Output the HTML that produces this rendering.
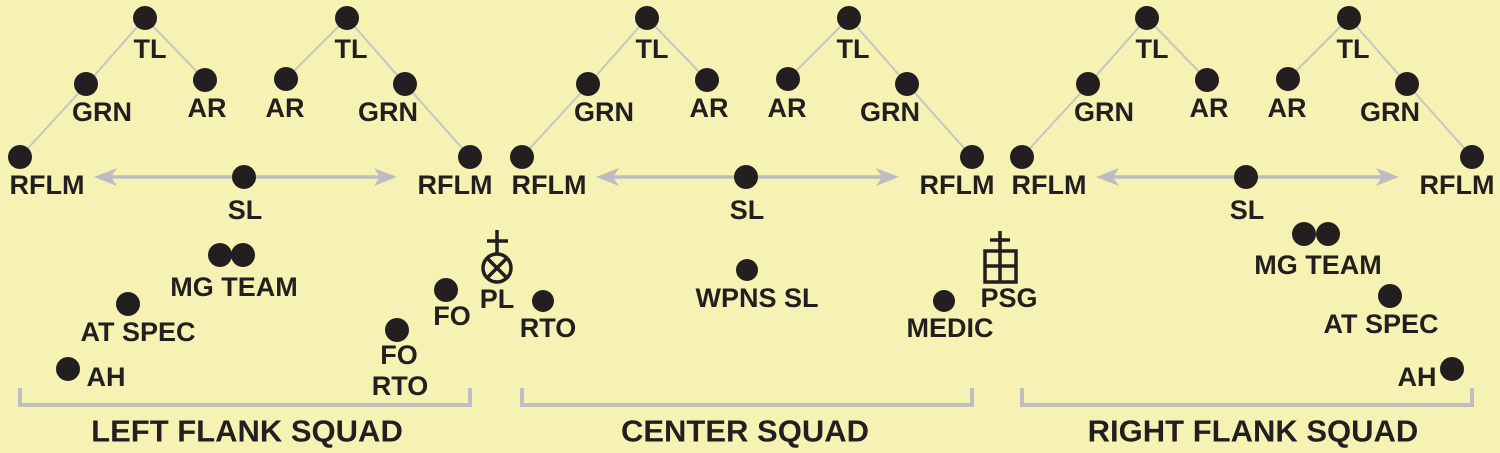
<!DOCTYPE html>
<html><head><meta charset="utf-8"><style>
html,body{margin:0;padding:0;background:#f6f2b3;}
svg{display:block}
text{font-family:"Liberation Sans",Arial,sans-serif;font-weight:bold;fill:#231f20;text-anchor:middle;dominant-baseline:central;}
.l{font-size:27px}
.b{font-size:31px}
</style></head><body>
<svg width="1500" height="453" viewBox="0 0 1500 453" xmlns="http://www.w3.org/2000/svg">
<rect width="1500" height="453" fill="#f6f2b3"/>
<defs>
<g id="sq">
  <g stroke="#c8c6c0" stroke-width="2" fill="none">
    <polyline points="20,157 86,85 145,18 205,80"/>
    <polyline points="286,79 347,18 405,84 470,157"/>
  </g>
  <line x1="105" y1="177" x2="385" y2="177" stroke="#bdbcc0" stroke-width="3.5"/>
  <polygon points="94,177 117,168 111,177 117,186" fill="#bdbcc0"/>
  <polygon points="397,177 374,168 380,177 374,186" fill="#bdbcc0"/>
  <g fill="#231f20">
    <circle cx="145" cy="18" r="12"/><circle cx="86" cy="84" r="12"/><circle cx="205" cy="80" r="12"/>
    <circle cx="20" cy="157" r="12"/><circle cx="347" cy="18" r="12"/><circle cx="286" cy="79" r="12"/>
    <circle cx="405" cy="84" r="12"/><circle cx="470" cy="157" r="12"/><circle cx="244" cy="177" r="12"/>
  </g>
  <text class="l" x="150" y="49">TL</text>
  <text class="l" x="102" y="112">GRN</text>
  <text class="l" x="207" y="108">AR</text>
  <text class="l" x="47" y="185">RFLM</text>
  <text class="l" x="245" y="210">SL</text>
  <text class="l" x="351" y="49">TL</text>
  <text class="l" x="285" y="108">AR</text>
  <text class="l" x="388" y="112">GRN</text>
  <text class="l" x="455" y="185">RFLM</text>
</g>
</defs>
<use href="#sq"/>
<use href="#sq" x="502"/>
<use href="#sq" x="1002"/>

<g stroke="#c0bfc0" stroke-width="4" fill="none">
  <polyline points="20,388 20,405 470,405 470,388"/>
  <polyline points="522,388 522,405 972,405 972,388"/>
  <polyline points="1022,388 1022,405 1472,405 1472,388"/>
</g>

<g fill="#231f20">
  <circle cx="220" cy="255" r="12"/><circle cx="243" cy="255" r="12"/>
  <circle cx="128" cy="304" r="12"/>
  <circle cx="68" cy="369" r="12"/>
  <circle cx="397" cy="330" r="12"/>
  <circle cx="446" cy="290" r="12"/>
  <circle cx="543" cy="301" r="11"/>
  <circle cx="747" cy="270" r="11"/>
  <circle cx="944" cy="301" r="11"/>
  <circle cx="1304" cy="234" r="12"/><circle cx="1328" cy="234" r="12"/>
  <circle cx="1390" cy="296" r="12"/>
  <circle cx="1452" cy="369" r="12"/>
</g>

<g stroke="#231f20" stroke-width="3.5" fill="none">
  <line x1="497" y1="230" x2="497" y2="254"/>
  <line x1="487" y1="241" x2="508" y2="241"/>
  <circle cx="497" cy="268" r="14"/>
  <line x1="487" y1="258" x2="507" y2="278"/>
  <line x1="507" y1="258" x2="487" y2="278"/>
</g>
<g stroke="#231f20" stroke-width="3.5" fill="none">
  <line x1="1000" y1="231" x2="1000" y2="250"/>
  <line x1="990" y1="240" x2="1010" y2="240"/>
  <rect x="985" y="251" width="31" height="31"/>
  <line x1="1000" y1="251" x2="1000" y2="282"/>
  <line x1="985" y1="266" x2="1016" y2="266"/>
</g>

<text class="l" x="234" y="287">MG TEAM</text>
<text class="l" x="138" y="332">AT SPEC</text>
<text class="l" x="106" y="377">AH</text>
<text class="l" x="399" y="355">FO</text>
<text class="l" x="400" y="386">RTO</text>
<text class="l" x="452" y="316">FO</text>
<text class="l" x="497" y="299">PL</text>
<text class="l" x="548" y="328">RTO</text>
<text class="l" x="757" y="298">WPNS SL</text>
<text class="l" x="950" y="328">MEDIC</text>
<text class="l" x="1009" y="298">PSG</text>
<text class="l" x="1318" y="265">MG TEAM</text>
<text class="l" x="1381" y="324">AT SPEC</text>
<text class="l" x="1417" y="377">AH</text>

<text class="b" x="247" y="431">LEFT FLANK SQUAD</text>
<text class="b" x="745" y="431">CENTER SQUAD</text>
<text class="b" x="1253" y="431">RIGHT FLANK SQUAD</text>
</svg>
</body></html>
